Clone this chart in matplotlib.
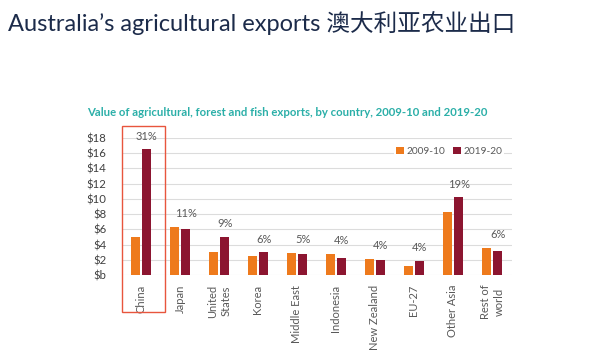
import numpy as np
import matplotlib
matplotlib.use("Agg")
import matplotlib.pyplot as plt
from matplotlib.patches import Rectangle

countries = ["China", "Japan", "United\nStates", "Korea", "Middle East",
             "Indonesia", "New Zealand", "EU-27", "Other Asia", "Rest of\nworld"]
exports_2009 = [5.0, 6.3, 3.0, 2.5, 2.9, 2.8, 2.1, 1.2, 8.3, 3.6]
exports_2019 = [16.5, 6.0, 5.0, 3.0, 2.7, 2.2, 2.0, 1.9, 10.2, 3.1]
shares = ["31%", "11%", "9%", "6%", "5%", "4%", "4%", "4%", "19%", "6%"]
yticks = [0, 2, 4, 6, 8, 10, 12, 14, 16, 18]
ytick_labels = ["$b", "$2", "$4", "$6", "$8", "$10", "$12", "$14", "$16", "$18"]

ORANGE = "#EE7A1C"
MAROON = "#8C1530"
GREY = "#595959"
FONT = "Lato"

fig = plt.figure(figsize=(6.0, 3.6), dpi=100)
ax = fig.add_axes([0.2025, 0.2361, 0.65, 0.3806])

x = np.arange(len(countries))
w = 0.235
off = 0.147
ax.bar(x - off, exports_2009, w, color=ORANGE, label="2009-10", zorder=3)
ax.bar(x + off, exports_2019, w, color=MAROON, label="2019-20", zorder=3)

for xi, a, b, s in zip(x, exports_2009, exports_2019, shares):
    ax.text(xi + off, max(a, b) + 1.0, s, ha="center", va="bottom",
            fontsize=8, color=GREY, family=FONT, clip_on=False)

ax.set_xlim(-0.5, len(countries) - 0.5)
ax.set_ylim(0, 18)
ax.set_yticks(yticks)
ax.set_yticklabels(ytick_labels, family=FONT, fontsize=8.2, color="#404040")
ax.set_xticks(x)
ax.set_xticklabels(countries, rotation=90, family=FONT, fontsize=8,
                   color=GREY, va="top", linespacing=1.3)
ax.tick_params(length=0, pad=11)
ax.tick_params(axis="x", pad=7)
ax.grid(axis="y", color="#DCDCDC", lw=0.8, zorder=0)
for sp in ax.spines.values():
    sp.set_visible(False)

leg = ax.legend(loc="upper right", bbox_to_anchor=(0.995, 0.985), ncol=2, frameon=True,
                facecolor="white", edgecolor="none", fontsize=7.3,
                handlelength=0.7, handleheight=0.7, handletextpad=0.3,
                columnspacing=0.8, borderpad=0.2, framealpha=1)
for t in leg.get_texts():
    t.set_color(GREY)
    t.set_family(FONT)

# highlight box around China
box = Rectangle((121.7 / 600, 1 - 311.7 / 360), (165 - 121.7) / 600, (311.7 - 126) / 360,
                transform=fig.transFigure, fill=False, ec="#E8553D", lw=1.0)
fig.patches.append(box)

fig.text(87 / 600, 1 - 113 / 360,
         "Value of agricultural, forest and fish exports, by country, 2009-10 and 2019-20",
         ha="left", va="center", fontsize=8.2, fontweight="bold", color="#2BAFA8",
         family=FONT)
fig.text(8 / 600, 1 - 23 / 360, "Australia\u2019s agricultural exports 澳大利亚农业出口",
         ha="left", va="center", fontsize=17, color="#1C2B4A",
         family=[FONT, "Noto Sans CJK SC"])

fig.savefig("out.png", dpi=100, facecolor="white")
